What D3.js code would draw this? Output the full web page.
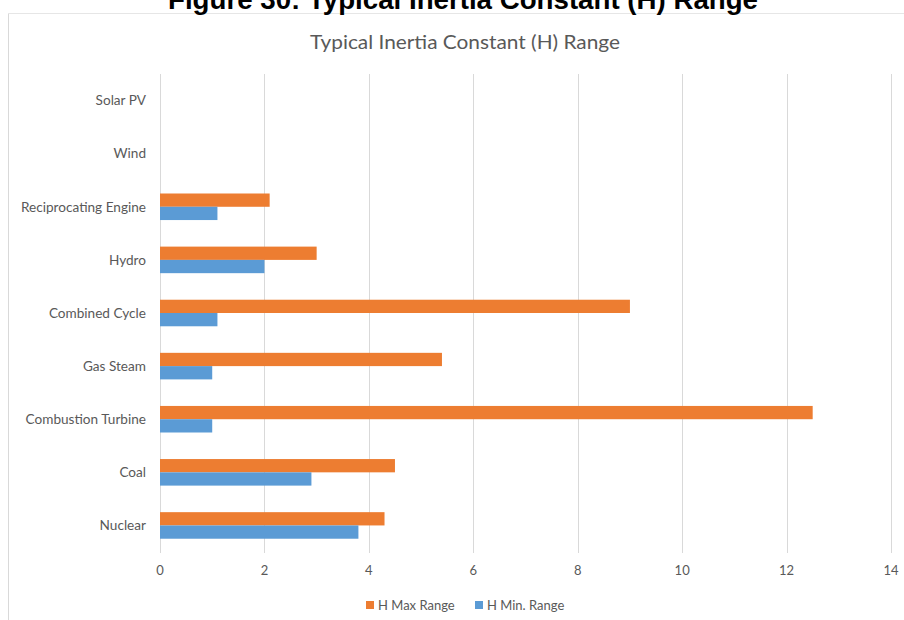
<!DOCTYPE html>
<html><head><meta charset="utf-8">
<script src="https://cdn.jsdelivr.net/npm/d3@7"></script>
<style>body{margin:0;background:#fff;}svg{display:block;}</style>
</head><body>
<svg id="chart" width="904" height="620"></svg>
<script>
const categories = ["Solar PV","Wind","Reciprocating Engine","Hydro","Combined Cycle","Gas Steam","Combustion Turbine","Coal","Nuclear"];
const hMax = [0, 0, 2.1, 3.0, 9.0, 5.4, 12.5, 4.5, 4.3];
const hMin = [0, 0, 1.1, 2.0, 1.1, 1.0, 1.0, 2.9, 3.8];
const xTicks = [0,2,4,6,8,10,12,14];
const seriesNames = ["H Max Range","H Min. Range"];
const seriesColors = ["#ED7D31","#5B9BD5"];

const svg = d3.select("#chart");
const font = "Lato, 'Open Sans', sans-serif";

// outer frame
svg.append("line").attr("x1",8.5).attr("x2",8.5).attr("y1",13).attr("y2",620).attr("stroke","#d9d9d9");
svg.append("line").attr("x1",8).attr("x2",904).attr("y1",13.5).attr("y2",13.5).attr("stroke","#e6e6e6");

// figure title (cut at top, as in the reference)
svg.append("text").attr("x",463).attr("y",9).attr("text-anchor","middle")
  .attr("font-family","'Liberation Sans Narrow','Arial Narrow',sans-serif").attr("font-weight","bold")
  .attr("font-size",27).attr("fill","#000").attr("textLength",590).attr("lengthAdjust","spacingAndGlyphs")
  .text("Figure 30:  Typical Inertia Constant (H) Range");

// chart title
svg.append("text").attr("x",465).attr("y",49).attr("text-anchor","middle")
  .attr("font-family",font).attr("font-size",19).attr("fill","#595959")
  .attr("textLength",310).attr("lengthAdjust","spacingAndGlyphs")
  .text("Typical Inertia Constant (H) Range");

const x = d3.scaleLinear().domain([0,14]).range([160,891]);
const y = d3.scaleBand().domain(categories).range([74,552]).paddingInner(0.5).paddingOuter(0.25);
const ySub = d3.scaleBand().domain([0,1]).range([0,y.bandwidth()]);

// gridlines
svg.append("g").selectAll("line").data(xTicks).join("line")
  .attr("x1",d=>Math.round(x(d))+0.5).attr("x2",d=>Math.round(x(d))+0.5)
  .attr("y1",74).attr("y2",553).attr("stroke","#d9d9d9").attr("stroke-width",1);

// bars
const series = [hMax, hMin];
series.forEach((vals,si)=>{
  svg.append("g").selectAll("rect").data(categories).join("rect")
    .attr("x",x(0)).attr("y",c=>y(c)+ySub(si))
    .attr("width",(c,i)=>x(vals[i])-x(0)).attr("height",ySub.bandwidth())
    .attr("fill",seriesColors[si]);
});

// category labels
svg.append("g").selectAll("text").data(categories).join("text")
  .attr("x",146).attr("y",c=>y(c)+y.bandwidth()/2).attr("dy","0.35em")
  .attr("text-anchor","end").attr("font-family",font).attr("font-size",13.6).attr("fill","#595959")
  .text(c=>c);

// x tick labels
svg.append("g").selectAll("text").data(xTicks).join("text")
  .attr("x",d=>x(d)).attr("y",575).attr("text-anchor","middle")
  .attr("font-family",font).attr("font-size",13).attr("fill","#595959")
  .text(d=>d);

// legend
const legendX = [366, 475];
seriesNames.forEach((n,i)=>{
  svg.append("rect").attr("x",legendX[i]).attr("y",601).attr("width",8).attr("height",8).attr("fill",seriesColors[i]);
  svg.append("text").attr("x",legendX[i]+12).attr("y",609.5).attr("font-family",font).attr("font-size",13).attr("fill","#595959").text(n);
});
</script>
</body></html>
